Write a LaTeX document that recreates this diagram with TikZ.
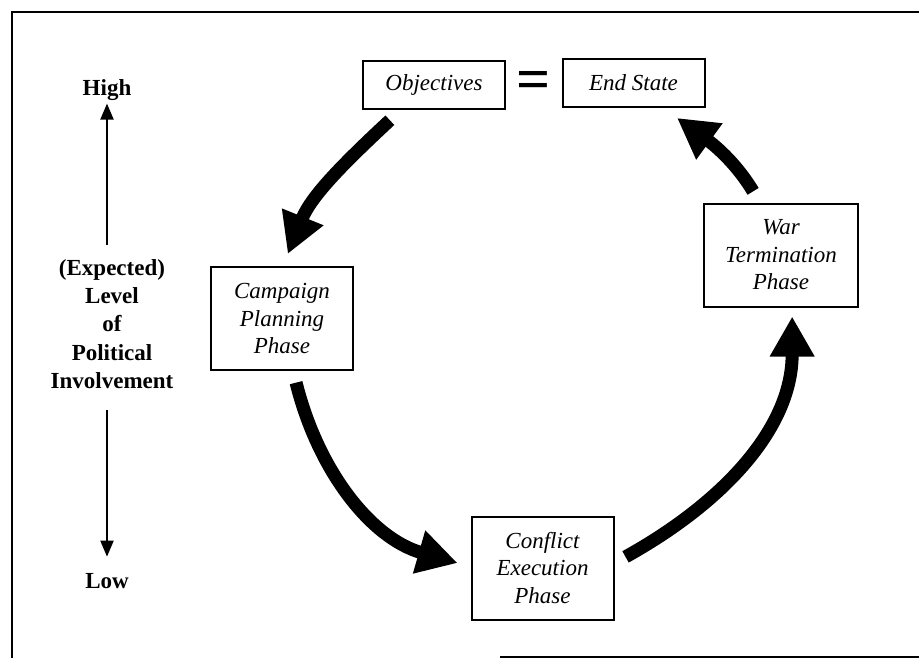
\documentclass[tikz,border=0pt]{standalone}
\usepackage{fontspec}
\setmainfont{Liberation Serif}
\usetikzlibrary{arrows.meta}

\begin{document}
\begin{tikzpicture}[x=0.5pt,y=0.5pt]
    \useasboundingbox (0,0) rectangle (919,-658);
    \tikzset{BoxStyle/.style={draw, line width=1pt, align=center, minimum width=71pt,
        inner sep=2pt, font=\fontsize{11.5}{13.75}\selectfont\itshape}}
    \tikzset{AxisStyle/.style={align=center, inner sep=0pt,
        font=\fontsize{11.5}{14.1}\selectfont\bfseries}}
    \tikzset{CycleArrowStyle/.style={line width=6.5pt, -{Triangle[length=20pt,width=21pt]}}}
    \tikzset{AxisArrowStyle/.style={line width=1pt, -{Triangle[length=8pt,width=6.5pt]}}}

    % frame
    \draw[line width=1pt] (12,-658) |- (919,-12);
    \draw[line width=1pt] (500,-657) -- (919,-657);

    \node[BoxStyle, minimum height=24pt] (obj) at (434,-85) {Objectives};
    \node[inner sep=0pt, font=\fontsize{30}{30}\selectfont\bfseries] (eq) at (533.5,-85) {=};
    \node[BoxStyle, minimum height=24pt] (end) at (633.5,-83) {End State};
    \node[BoxStyle, minimum height=51.5pt] (camp) at (282,-318.5) {Campaign\\Planning\\Phase};
    \node[BoxStyle, minimum height=51.5pt] (conf) at (542.5,-568) {Conflict\\Execution\\Phase};
    \node[BoxStyle, minimum height=51.5pt, minimum width=77pt] (war) at (781,-255) {War\\Termination\\Phase};

    \node[AxisStyle] (high) at (107,-90.25) {High};
    \node[AxisStyle] (lvl) at (112,-324) {(Expected)\\Level\\of\\Political\\Involvement};
    \node[AxisStyle] (low) at (107,-580.7) {Low};

    \draw[AxisArrowStyle, shorten <=7.3pt, shorten >=1.2pt] (lvl.north -| high) -- (high.south);
    \draw[AxisArrowStyle, shorten <=10.8pt, shorten >=8pt] (lvl.south -| low) -- (low.north);

    \draw[CycleArrowStyle, shorten <=7.5pt, shorten >=6.5pt] (obj.217) to[out=223, in=68] (camp.89);
    \draw[CycleArrowStyle, shorten <=6pt, shorten >=6.75pt] (camp.282) to[out=284, in=164] (conf.179);
    \draw[CycleArrowStyle, shorten <=6.3pt, shorten >=4.5pt] (conf.4) to[out=29, in=270] (war.282);
    \draw[CycleArrowStyle, shorten <=6.5pt, shorten >=8.5pt] (war.112) to[out=121, in=324] (end.320);
\end{tikzpicture}
\end{document}
